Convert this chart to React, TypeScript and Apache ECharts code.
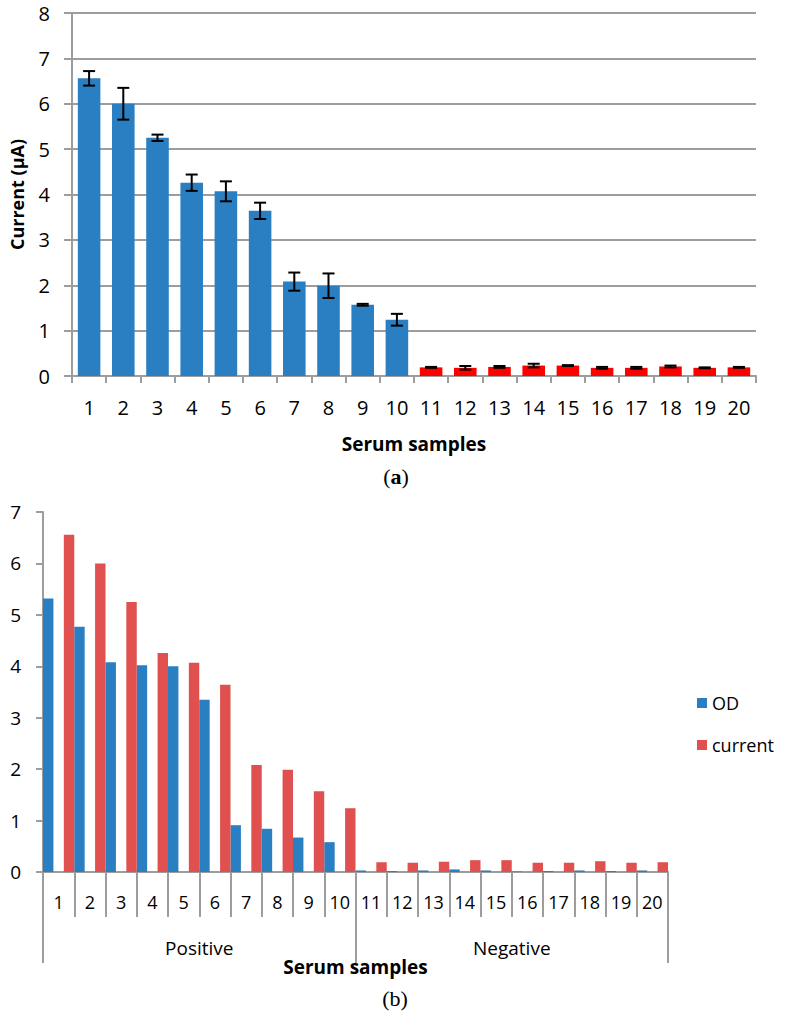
import React, { useEffect, useRef } from 'react';
import * as echarts from 'echarts';

const samples = ['1', '2', '3', '4', '5', '6', '7', '8', '9', '10', '11', '12', '13', '14', '15', '16', '17', '18', '19', '20'];
const groups = ['Positive', 'Negative'];
const currentValues = [6.56, 6.0, 5.25, 4.26, 4.07, 3.64, 2.08, 1.99, 1.57, 1.24, 0.19, 0.18, 0.2, 0.23, 0.23, 0.18, 0.18, 0.21, 0.18, 0.19];
const currentErrors = [0.16, 0.35, 0.07, 0.18, 0.22, 0.18, 0.2, 0.27, 0.02, 0.13, 0.01, 0.04, 0.02, 0.04, 0.01, 0.02, 0.02, 0.02, 0.01, 0.01];
const odValues = [5.32, 4.77, 4.08, 4.02, 4.0, 3.35, 0.91, 0.84, 0.67, 0.58, 0.03, 0.02, 0.03, 0.05, 0.03, 0.01, 0.02, 0.03, 0.02, 0.03];
const positiveCount = 10;

const FONT = '"Open Sans", sans-serif';
const SERIF = '"Liberation Serif", "DejaVu Serif", serif';
const GRAY = '#9d9d9d';
const BLUE = '#2A7FC2';
const RED_A = '#FF0000';
const RED_B = '#E0504E';

export default function App() {
  const ref = useRef<HTMLDivElement>(null);
  useEffect(() => {
    const chart = echarts.init(ref.current!, null, { renderer: 'svg' });
    const axisLineStyle = { color: GRAY, width: 2 };
    const option: any = {
      animation: false,
      backgroundColor: '#fff',
      textStyle: { fontFamily: FONT },
      grid: [
        { left: 72, top: 13, width: 684, height: 363 },
        { left: 43, top: 512, width: 625, height: 360 },
      ],
      legend: {
        data: ['OD', 'current'],
        orient: 'vertical',
        left: 692,
        top: 687,
        itemWidth: 10,
        itemHeight: 10,
        itemGap: 20,
        icon: 'rect',
        textStyle: { fontSize: 18, fontFamily: FONT, color: '#000', lineHeight: 22 },
      },
      xAxis: [
        {
          gridIndex: 0,
          type: 'category',
          position: 'bottom',
          data: samples,
          axisLine: { show: true, lineStyle: axisLineStyle },
          axisTick: { show: true, length: 7, interval: 0, lineStyle: axisLineStyle },
          axisLabel: { margin: 21, fontSize: 20, color: '#000', fontFamily: FONT, interval: 0 },
          name: 'Serum samples',
          nameLocation: 'middle',
          nameGap: 58,
          nameTextStyle: { fontSize: 19, fontWeight: 'bold', color: '#000', fontFamily: FONT },
        },
        {
          gridIndex: 1,
          type: 'category',
          position: 'bottom',
          data: samples,
          axisLine: { show: true, lineStyle: axisLineStyle },
          axisTick: { show: true, length: 45, interval: 0, lineStyle: axisLineStyle },
          axisLabel: { margin: 21, fontSize: 18, color: '#000', fontFamily: FONT, interval: 0 },
        },
        {
          gridIndex: 1,
          type: 'category',
          position: 'bottom',
          data: groups,
          axisLine: { show: false },
          axisTick: { show: true, length: 91, interval: 0, lineStyle: axisLineStyle },
          axisLabel: { margin: 66, fontSize: 19, color: '#000', fontFamily: FONT, interval: 0 },
          name: 'Serum samples',
          nameLocation: 'middle',
          nameGap: 79,
          nameTextStyle: { fontSize: 19, fontWeight: 'bold', color: '#000', fontFamily: FONT },
        },
      ],
      yAxis: [
        {
          gridIndex: 0,
          type: 'value',
          min: 0,
          max: 8,
          interval: 1,
          axisLine: { show: true, lineStyle: axisLineStyle },
          axisTick: { show: true, length: 8, lineStyle: axisLineStyle },
          splitLine: { show: true, lineStyle: axisLineStyle },
          axisLabel: { margin: 22, fontSize: 20, color: '#000', fontFamily: FONT },
          name: 'Current (µA)',
          nameLocation: 'middle',
          nameGap: 46,
          nameRotate: 90,
          nameTextStyle: { fontSize: 18, fontWeight: 'bold', color: '#000', fontFamily: FONT },
        },
        {
          gridIndex: 1,
          type: 'value',
          min: 0,
          max: 7,
          interval: 1,
          axisLine: { show: true, lineStyle: axisLineStyle },
          axisTick: { show: true, length: 7, lineStyle: axisLineStyle },
          splitLine: { show: false },
          axisLabel: { margin: 22, fontSize: 19, color: '#000', fontFamily: FONT },
        },
      ],
      series: [
        {
          name: 'Current',
          type: 'bar',
          xAxisIndex: 0,
          yAxisIndex: 0,
          barCategoryGap: '34%',
          data: currentValues.map((v, i) => ({
            value: v,
            itemStyle: { color: i < positiveCount ? BLUE : RED_A },
          })),
        },
        {
          name: 'Error',
          type: 'custom',
          xAxisIndex: 0,
          yAxisIndex: 0,
          z: 5,
          data: currentValues.map((v, i) => [i, v - currentErrors[i], v + currentErrors[i]]),
          encode: { x: 0, y: [1, 2] },
          renderItem: (params: any, api: any) => {
            const idx = api.value(0);
            const lo = api.coord([idx, api.value(1)]);
            const hi = api.coord([idx, api.value(2)]);
            const half = 6;
            const style = { stroke: '#000', lineWidth: 2 };
            return {
              type: 'group',
              children: [
                { type: 'line', shape: { x1: hi[0], y1: hi[1], x2: lo[0], y2: lo[1] }, style },
                { type: 'line', shape: { x1: hi[0] - half, y1: hi[1], x2: hi[0] + half, y2: hi[1] }, style },
                { type: 'line', shape: { x1: lo[0] - half, y1: lo[1], x2: lo[0] + half, y2: lo[1] }, style },
              ],
            };
          },
        },
        {
          name: 'OD',
          type: 'bar',
          xAxisIndex: 1,
          yAxisIndex: 1,
          barGap: '100%',
          barCategoryGap: '0%',
          itemStyle: { color: BLUE },
          data: odValues,
        },
        {
          name: 'current',
          type: 'bar',
          xAxisIndex: 1,
          yAxisIndex: 1,
          barGap: '100%',
          barCategoryGap: '0%',
          itemStyle: { color: RED_B },
          data: currentValues,
        },
      ],
      graphic: [
        {
          type: 'text',
          x: 396,
          y: 476,
          style: {
            text: '{p|(}{b|a}{p|)}',
            align: 'center',
            verticalAlign: 'middle',
            rich: {
              p: { fontFamily: SERIF, fontSize: 22, fill: '#000' },
              b: { fontFamily: SERIF, fontSize: 22, fontWeight: 'bold', fill: '#000' },
            },
          },
        },
        {
          type: 'text',
          x: 395,
          y: 998,
          style: {
            text: '(b)',
            fontFamily: SERIF,
            fontSize: 22,
            fill: '#000',
            align: 'center',
            verticalAlign: 'middle',
          },
        },
      ],
    };
    chart.setOption(option);
    return () => chart.dispose();
  }, []);
  return (
    <div
      ref={ref}
      style={{ position: 'absolute', left: 0, top: 0, width: 788, height: 1021, background: '#fff' }}
    />
  );
}
